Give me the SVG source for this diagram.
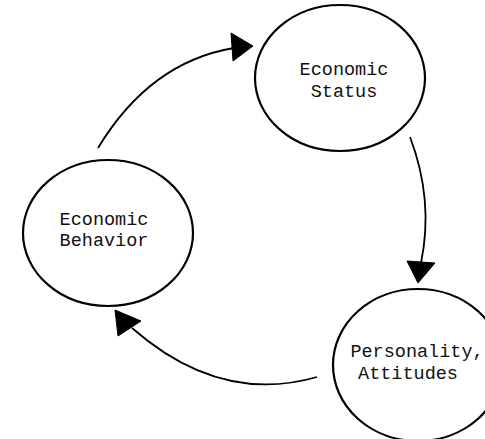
<svg xmlns="http://www.w3.org/2000/svg" width="485" height="439" viewBox="0 0 485 439">
<style>
.node ellipse{fill:none;stroke:#000;stroke-width:2.2}
.node text{font-family:"Liberation Mono","DejaVu Sans Mono",monospace;font-size:18.5px;fill:#111;text-anchor:middle}
.edge{fill:none;stroke:#000;stroke-width:1.8}
.head{fill:#000;stroke:#000;stroke-width:1;stroke-linejoin:round}
</style>
<rect width="485" height="439" fill="#fff"/>
<g id="status" class="node">
<ellipse cx="340" cy="78" rx="85" ry="73"/>
<text x="344" y="75">Economic</text>
<text x="344" y="97">Status</text>
</g>
<g id="behavior" class="node">
<ellipse cx="108" cy="233" rx="85" ry="73"/>
<text x="104" y="225">Economic</text>
<text x="104" y="246">Behavior</text>
</g>
<g id="personality" class="node">
<ellipse cx="418" cy="365" rx="85" ry="76"/>
<text x="417" y="357">Personality,</text>
<text x="408" y="379">Attitudes</text>
</g>
<g id="connectors">
<path class="edge" d="M98,148 Q150,62 234,48"/>
<polygon class="head" points="253,46 231,33 233,61"/>
<path class="edge" d="M410,137 Q434,200 421,263"/>
<polygon class="head" points="418,283 407,261 435,263"/>
<path class="edge" d="M317,377 Q220,405 132,328"/>
<polygon class="head" points="115,310 118,336 141,321"/>
</g>
</svg>
